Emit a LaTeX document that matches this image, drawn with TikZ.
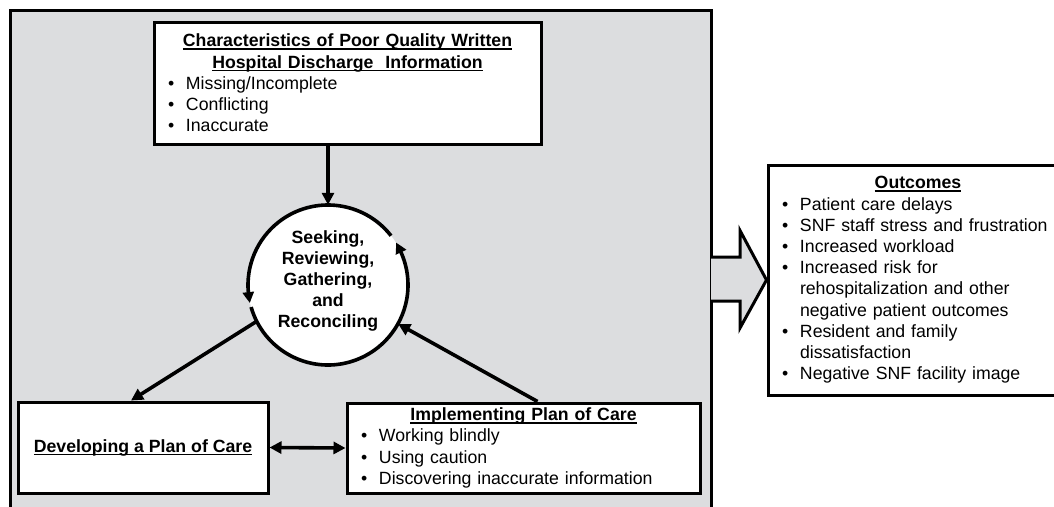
\documentclass[tikz,border=0pt]{standalone}
\usepackage{fontspec}
\setmainfont{Liberation Sans}
\usetikzlibrary{arrows.meta, bending}
\definecolor{panelgray}{RGB}{220,221,223}
\newcommand{\boxfont}{\fontsize{17.7}{21.2}\selectfont}
\newcommand{\undl}[1]{\setbox0\hbox{#1}\rlap{\rule[-3.2pt]{\wd0}{1.7pt}}\box0}
\newcommand{\bul}{\makebox[18pt][l]{\textbullet}}
\newcommand{\ttl}[1]{\makebox[\linewidth][c]{\undl{\textbf{#1}}}}

\begin{document}
\begin{tikzpicture}[x=1pt, y=-1pt,
  box/.style={draw, line width=3pt, fill=white, align=left, inner xsep=14pt, inner ysep=3pt, font=\boxfont},
  conn/.style={line width=3.6pt, >={Triangle[length=12pt, width=12pt]}, ->},
  loop arrow/.style={line width=3.6pt, -{Triangle[length=11pt, width=11pt, bend]}}]

    \useasboundingbox (0,0) rectangle (1054,506);
    \clip (0,0) rectangle (1054,506);

    % grey panel
    \fill[panelgray] (10,10) rectangle (711,520);
    \draw[line width=3pt] (10,520) -- (10,10) -- (711,10) -- (711,520);

    \node[box, text width=359pt, minimum height=122pt] (chars) at (347.5,83)
      {\ttl{Characteristics of Poor Quality Written}\\ \ttl{Hospital Discharge~ Information}\\
       \bul Missing/Incomplete\\ \bul Conflicting\\ \bul Inaccurate};

    \node[circle, fill=white, minimum size=160pt, inner sep=0pt] (srgr) at (328,285) {};
    \node[font=\boxfont\bfseries, align=center] (srgrtxt) at (328,281)
      {Seeking,\\Reviewing,\\Gathering,\\and\\Reconciling};

    \node[box, align=center, minimum width=250pt, minimum height=91pt] (devel) at (143,447.5)
      {\undl{\textbf{Developing a Plan of Care}}};

    \node[box, text width=325pt, minimum height=90pt] (impl) at (523.5,448)
      {\ttl{Implementing Plan of Care}\\ \bul Working blindly\\ \bul Using caution\\
       \bul Discovering inaccurate information};

    \node[box, text width=272pt, minimum height=230pt] (outc) at (918,280)
      {\ttl{Outcomes}\\ \bul Patient care delays\\ \bul SNF staff stress and frustration\\
       \bul Increased workload\\ \bul Increased risk for\\ \hspace*{18pt}rehospitalization and other\\
       \hspace*{18pt}negative patient outcomes\\ \bul Resident and family\\
       \hspace*{18pt}dissatisfaction\\ \bul Negative SNF facility image};

    % big arrow to outcomes
    \draw[line width=3pt, fill=panelgray, line join=miter] (711,257) -- (740,257) -- (740,230.5)
      -- (outc.west) -- (740,328) -- (740,301) -- (711,301);

    % circular arrows
    \draw[loop arrow] ([shift={(196:80pt)}]srgr.center) arc[start angle=196, end angle=392, radius=80pt];
    \draw[loop arrow] ([shift={(38:80pt)}]srgr.center) arc[start angle=38, end angle=193, radius=80pt];

    \draw[conn] (chars.south -| srgr.north) -- (srgr.north);
    \draw[conn] (srgr.207) -- ([xshift=-12pt]devel.north);
    \draw[conn] ([xshift=14pt]impl.north) -- (srgr.-29);
    \draw[conn, <->] (devel.east) -- (impl.west);

\end{tikzpicture}
\end{document}
